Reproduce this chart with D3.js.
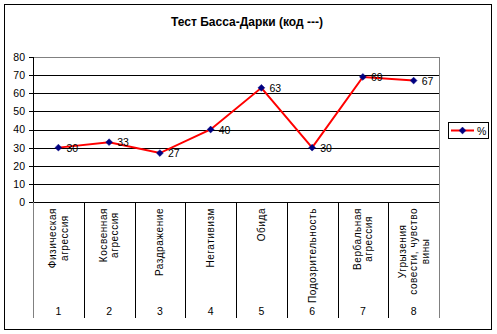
<!DOCTYPE html>
<html>
<head>
<meta charset="utf-8">
<script src="https://cdn.jsdelivr.net/npm/d3@7"></script>
<style>
  html, body { margin: 0; padding: 0; background: #fff; }
  svg { display: block; font-family: "Liberation Sans", Arial, sans-serif; }
</style>
</head>
<body>
<svg id="chart" width="497" height="334"></svg>
<script>
// Bass–Darkey test scores by scale
const title = "Тест Басса-Дарки (код ---)";
const scaleNumbers = ["1", "2", "3", "4", "5", "6", "7", "8"];
const scaleNames = [
  ["Физическая", "агрессия"],
  ["Косвенная", "агрессия"],
  ["Раздражение"],
  ["Негативизм"],
  ["Обида"],
  ["Подозрительность"],
  ["Вербальная", "агрессия"],
  ["Угрызения", "совести, чувство", "вины"]
];
const percents = [30, 33, 27, 40, 63, 30, 69, 67];
const yTicks = [0, 10, 20, 30, 40, 50, 60, 70, 80];
const seriesName = "%";

const svg = d3.select("#chart");

// outer frame
svg.append("rect")
  .attr("x", 4.5).attr("y", 4.5).attr("width", 487).attr("height", 325)
  .attr("fill", "#fff").attr("stroke", "#000").attr("stroke-width", 1);

// title
svg.append("text")
  .attr("x", 247).attr("y", 26)
  .attr("text-anchor", "middle")
  .attr("font-size", 12).attr("font-weight", "bold")
  .text(title);

const plot = { left: 33, right: 439, top: 57, bottom: 202 };

const x = d3.scaleBand()
  .domain(scaleNumbers)
  .range([plot.left, plot.right])
  .padding(0);

const y = d3.scaleLinear()
  .domain([0, 80])
  .range([plot.bottom, plot.top]);

// horizontal gridlines
const grid = svg.append("g")
  .attr("transform", `translate(${plot.left},0)`)
  .call(d3.axisLeft(y).tickValues(yTicks.slice(1, -1)).tickSize(-(plot.right - plot.left)).tickFormat(""));
grid.select(".domain").remove();
grid.selectAll(".tick line").attr("stroke", "#000").attr("shape-rendering", "crispEdges");

// plot frame top & right (gray)
svg.append("path")
  .attr("d", `M${plot.left + 0.5},${plot.top + 0.5}H${plot.right + 0.5}V${plot.bottom}`)
  .attr("fill", "none").attr("stroke", "#808080").attr("shape-rendering", "crispEdges");

// y axis
const yAxis = svg.append("g")
  .attr("transform", `translate(${plot.left},0)`)
  .call(d3.axisLeft(y).tickValues(yTicks).tickSize(4).tickPadding(4));
yAxis.selectAll("path, line").attr("stroke", "#000").attr("shape-rendering", "crispEdges");
yAxis.select(".domain").attr("d", `M0.5,${plot.top}V${plot.bottom + 0.5}`);
yAxis.selectAll("text")
  .attr("font-family", "'Liberation Sans', Arial, sans-serif")
  .attr("font-size", 10.5).attr("fill", "#000");

// category axis baseline
svg.append("line")
  .attr("x1", plot.left).attr("x2", plot.right + 1)
  .attr("y1", y(0) + 0.5).attr("y2", y(0) + 0.5)
  .attr("stroke", "#000").attr("shape-rendering", "crispEdges");

// category separators extending down through the two label levels
const sepBottom = 318;
const bounds = scaleNumbers.map(d => x(d)).concat([plot.right]);
svg.append("g").selectAll("line")
  .data(bounds)
  .join("line")
  .attr("x1", d => Math.round(d) + 0.5).attr("x2", d => Math.round(d) + 0.5)
  .attr("y1", plot.bottom).attr("y2", sepBottom)
  .attr("stroke", (d, i) => (i === 0 || i === bounds.length - 1) ? "#808080" : "#000")
  .attr("shape-rendering", "crispEdges");

// rotated scale names, top aligned, lines centred within each block
const nameTop = 208;
const lineH = 11.5;
const nameSize = 10;
const names = svg.append("g")
  .attr("font-size", nameSize)
  .attr("letter-spacing", 0.55);
scaleNames.forEach((lines, i) => {
  const cx = x(scaleNumbers[i]) + x.bandwidth() / 2;
  const g = names.append("g");
  const texts = lines.map((ln, j) => g.append("text").text(ln));
  const maxLen = d3.max(texts, t => t.node().getComputedTextLength());
  const midY = nameTop + maxLen / 2;
  texts.forEach((t, j) => {
    const bx = cx + (j - (lines.length - 1) / 2) * lineH + nameSize * 0.36;
    t.attr("text-anchor", "middle")
      .attr("transform", `translate(${bx},${midY}) rotate(-90)`);
  });
});

// scale numbers
svg.append("g").selectAll("text")
  .data(scaleNumbers)
  .join("text")
  .attr("x", d => x(d) + x.bandwidth() / 2)
  .attr("y", 315)
  .attr("text-anchor", "middle")
  .attr("font-size", 10.5)
  .text(d => d);

// series line
const cxOf = (d, i) => x(scaleNumbers[i]) + x.bandwidth() / 2;
const line = d3.line().x(cxOf).y(d => y(d));
svg.append("path")
  .datum(percents)
  .attr("d", line)
  .attr("fill", "none")
  .attr("stroke", "#ff0000")
  .attr("stroke-width", 2);

// diamond markers
const diamond = d3.symbol().type(d3.symbolDiamond2).size(30);
svg.append("g").selectAll("path")
  .data(percents)
  .join("path")
  .attr("d", diamond)
  .attr("transform", (d, i) => `translate(${cxOf(d, i)},${y(d)})`)
  .attr("fill", "#000080")
  .attr("stroke", "#000080")
  .attr("stroke-width", 0.5);

// value labels
svg.append("g").selectAll("text")
  .data(percents)
  .join("text")
  .attr("x", (d, i) => cxOf(d, i) + 8)
  .attr("y", d => y(d) + 4)
  .attr("font-size", 10.5)
  .text(d => d);

// legend
const lg = svg.append("g");
lg.append("rect")
  .attr("x", 448.5).attr("y", 122.5).attr("width", 40).attr("height", 16)
  .attr("fill", "#fff").attr("stroke", "#000");
lg.append("line")
  .attr("x1", 451).attr("x2", 474).attr("y1", 130.5).attr("y2", 130.5)
  .attr("stroke", "#ff0000").attr("stroke-width", 2);
lg.append("path")
  .attr("d", diamond)
  .attr("transform", "translate(462.5,130.5)")
  .attr("fill", "#000080").attr("stroke", "#000080").attr("stroke-width", 0.5);
lg.append("text")
  .attr("x", 477).attr("y", 134.5)
  .attr("font-size", 10.5)
  .text(seriesName);
</script>
</body>
</html>
